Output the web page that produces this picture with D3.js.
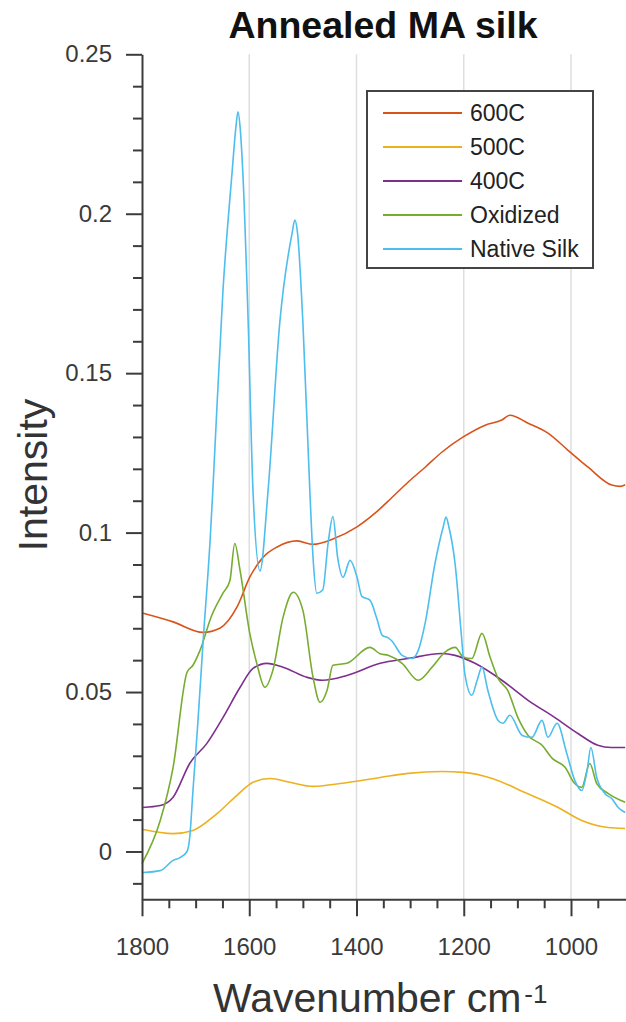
<!DOCTYPE html>
<html lang="en">
<head>
	<meta charset="UTF-8">
	<title>Annealed MA silk</title>
	<script src="https://cdn.jsdelivr.net/npm/d3@7"></script>
	<style>
		html,body{
			margin:0;
			padding:0;
			background:#fff;
		}
		svg{
			display:block;
			font-family:"Liberation Sans", Arial, Helvetica, sans-serif;
		}
		.grid line{
			stroke:#dedede;
			stroke-width:1.5;
		}
		.axis path,.axis line{
			stroke:#3c3c3c;
			stroke-width:2;
		}
		.axis text{
			fill:#3a3a3a;
			font-size:24px;
		}
		.curve{
			fill:none;
			stroke-width:1.6;
		}
	</style>
</head>
<body>
	<svg id="svg" width="626" height="1022"></svg>
	<script>
		// series: [wavenumber, intensity]
		var series_names = ["600C", "500C", "400C", "Oxidized", "Native Silk"];
		var series_colors = ["#D95319", "#EDB120", "#7E2F8E", "#77AC30", "#4DBEEE"];

		var s600 = [[1798,0.0747],[1742,0.072],[1686,0.0687],[1655,0.070],[1623,0.0766],[1599,0.086],[1574,0.0923],
			[1548,0.0955],[1511,0.0974],[1481,0.0963],[1444,0.098],[1399,0.1018],[1366,0.106],[1334,0.111],
			[1304,0.1158],[1272,0.1205],[1241,0.1252],[1201,0.130],[1160,0.1337],[1129,0.1353],[1114,0.1368],
			[1080,0.1343],[1043,0.1312],[1006,0.1259],[968,0.1205],[924,0.1149],[908,0.1145],[899,0.115]];

		var s500 = [[1798,0.0069],[1742,0.0056],[1705,0.0066],[1660,0.0119],[1623,0.0176],[1593,0.0217],[1561,0.0229],
			[1524,0.0217],[1481,0.0204],[1431,0.0213],[1356,0.0232],[1304,0.0245],[1241,0.0251],[1201,0.0248],
			[1147,0.0229],[1086,0.0185],[1024,0.0138],[980,0.0097],[931,0.0075],[899,0.0072]];

		var s400 = [[1798,0.0138],[1766,0.0144],[1742,0.017],[1711,0.0276],[1679,0.0339],[1649,0.042],[1617,0.0515],
			[1593,0.0574],[1567,0.059],[1537,0.0578],[1492,0.0546],[1463,0.0537],[1418,0.0552],[1356,0.059],
			[1304,0.0605],[1241,0.0621],[1216,0.0615],[1179,0.059],[1129,0.0537],[1080,0.0474],[1030,0.042],
			[987,0.037],[950,0.0333],[925,0.0326],[899,0.0326]];

		var oxidized = [[1800,-0.0038],[1766,0.0097],[1742,0.0264],[1716,0.0562],[1705,0.0584],[1692,0.063],[1670,0.074],
			[1649,0.081],[1636,0.085],[1627,0.0966],[1617,0.088],[1599,0.0684],[1586,0.059],[1571,0.0515],
			[1556,0.0568],[1537,0.0734],[1518,0.0813],[1500,0.0756],[1481,0.0546],[1468,0.0468],[1455,0.0505],
			[1444,0.0584],[1418,0.059],[1375,0.064],[1356,0.062],[1341,0.0615],[1315,0.059],[1285,0.0537],
			[1259,0.0578],[1235,0.0625],[1216,0.064],[1201,0.061],[1185,0.0605],[1166,0.0684],[1151,0.061],
			[1136,0.0543],[1118,0.0505],[1099,0.042],[1080,0.0364],[1054,0.0333],[1035,0.0292],[1011,0.0264],
			[993,0.0213],[980,0.0201],[965,0.0276],[952,0.0213],[931,0.0182],[899,0.0154]];

		var native_silk = [[1798,-0.0066],[1766,-0.006],[1742,-0.0028],[1730,-0.002],[1716,0.0],[1711,0.0044],[1705,0.019],
			[1696,0.04],[1686,0.066],[1673,0.0976],[1668,0.113],[1649,0.176],[1632,0.213],[1625,0.227],[1621,0.232],
			[1617,0.227],[1612,0.213],[1602,0.166],[1593,0.113],[1580,0.088],[1565,0.113],[1543,0.166],[1520,0.194],
			[1515,0.198],[1510,0.194],[1500,0.166],[1487,0.113],
			[1481,0.092],[1474,0.081],[1463,0.082],[1453,0.0966],[1444,0.105],[1435,0.092],[1425,0.086],[1412,0.0913],
			[1399,0.086],[1390,0.08],[1375,0.0788],[1362,0.073],[1352,0.0678],[1341,0.067],[1334,0.066],[1315,0.0615],
			[1297,0.0605],[1285,0.063],[1272,0.0716],[1254,0.090],[1238,0.102],[1233,0.1049],[1228,0.102],[1216,0.090],
			[1205,0.069],
			[1198,0.0558],[1185,0.049],[1175,0.0537],[1166,0.0578],[1155,0.0505],[1136,0.0411],[1127,0.0402],
			[1114,0.0427],[1091,0.0364],[1073,0.0358],[1054,0.0411],[1043,0.0358],[1026,0.0402],[1008,0.0308],
			[993,0.0223],[980,0.0191],[970,0.0254],[963,0.0326],[952,0.0232],[937,0.0182],[924,0.0166],
			[912,0.0138],[899,0.0122]];

		var x_major = [1800, 1600, 1400, 1200, 1000];
		var x_minor = [1750, 1700, 1650, 1550, 1500, 1450, 1350, 1300, 1250, 1150, 1100, 1050, 950];
		var y_major = [0, 0.05, 0.1, 0.15, 0.2, 0.25];
		var y_minor = [-0.01, 0.01, 0.02, 0.03, 0.04, 0.06, 0.07, 0.08, 0.09, 0.11, 0.12, 0.13, 0.14,
			0.16, 0.17, 0.18, 0.19, 0.21, 0.22, 0.23, 0.24];
		var y_labels = ["0", "0.05", "0.1", "0.15", "0.2", "0.25"];

		window.onload = ()=>{
			var svg = d3.select("svg"),
				left = 142, top = 54.3, bottom = 899.3;

			var x = d3.scaleLinear().domain([1800, 890]).range([left, left + 910 * 0.53625]),
				y = d3.scaleLinear().domain([-0.015, 0.25]).range([bottom, top]);

			svg.append("rect").attr("width", 626).attr("height", 1022).attr("fill", "#fff");

			// vertical grid
			svg.append("g").attr("class", "grid")
				.selectAll("line").data(x_major.slice(1)).enter().append("line")
				.attr("x1", d=>x(d)).attr("x2", d=>x(d))
				.attr("y1", top).attr("y2", bottom);

			// curves
			var all = [s600, s500, s400, oxidized, native_silk];
			var line = d3.line()
				.x(d=>x(d[0]))
				.y(d=>y(d[1]))
				.curve(d3.curveMonotoneX);
			svg.append("g").selectAll("path").data(all).enter().append("path")
				.attr("class", "curve")
				.attr("stroke", (d,i)=>series_colors[i])
				.attr("d", line);

			// axes
			svg.append("g").attr("class", "axis")
				.attr("transform", "translate(0," + bottom + ")")
				.call(d3.axisBottom(x).tickValues(x_minor).tickSize(9).tickFormat(""))
				.select(".domain").remove();
			svg.append("g").attr("class", "axis")
				.attr("transform", "translate(0," + bottom + ")")
				.call(d3.axisBottom(x).tickValues(x_major).tickSize(17).tickSizeOuter(0).tickPadding(22).tickFormat(d3.format("d")));
			svg.append("g").attr("class", "axis")
				.attr("transform", "translate(" + left + ",0)")
				.call(d3.axisLeft(y).tickValues(y_minor).tickSize(9).tickFormat(""))
				.select(".domain").remove();
			svg.append("g").attr("class", "axis")
				.attr("transform", "translate(" + left + ",0)")
				.call(d3.axisLeft(y).tickValues(y_major).tickSize(16).tickSizeOuter(0).tickPadding(14)
					.tickFormat((d,i)=>y_labels[i]));

			// title and labels
			svg.append("text")
				.attr("x", 383).attr("y", 38)
				.attr("text-anchor", "middle")
				.attr("font-size", 37.5).attr("font-weight", "bold")
				.attr("fill", "#111")
				.text("Annealed MA silk");

			svg.append("text")
				.attr("transform", "translate(47,475) rotate(-90)")
				.attr("text-anchor", "middle")
				.attr("font-size", 41)
				.attr("fill", "#333")
				.text("Intensity");

			var xl = svg.append("text")
				.attr("x", 213).attr("y", 1012)
				.attr("font-size", 41)
				.attr("fill", "#333");
			xl.append("tspan").text("Wavenumber cm");
			xl.append("tspan").attr("dx", 3).attr("dy", -9).attr("font-size", 26).text("-1");

			// legend
			var lg = svg.append("g").attr("transform", "translate(367,91)");
			lg.append("rect")
				.attr("width", 226).attr("height", 177)
				.attr("fill", "#fff")
				.attr("stroke", "#444").attr("stroke-width", 2);
			var rows = lg.selectAll("g").data(series_names).enter().append("g")
				.attr("transform", (d,i)=>"translate(0," + (22 + i * 34) + ")");
			rows.append("line")
				.attr("x1", 16).attr("x2", 95)
				.attr("stroke", (d,i)=>series_colors[i])
				.attr("stroke-width", 1.8);
			rows.append("text")
				.attr("x", 103).attr("dy", "0.35em")
				.attr("font-size", 23)
				.attr("fill", "#222")
				.text(d=>d);
		}
	</script>
</body>
</html>
